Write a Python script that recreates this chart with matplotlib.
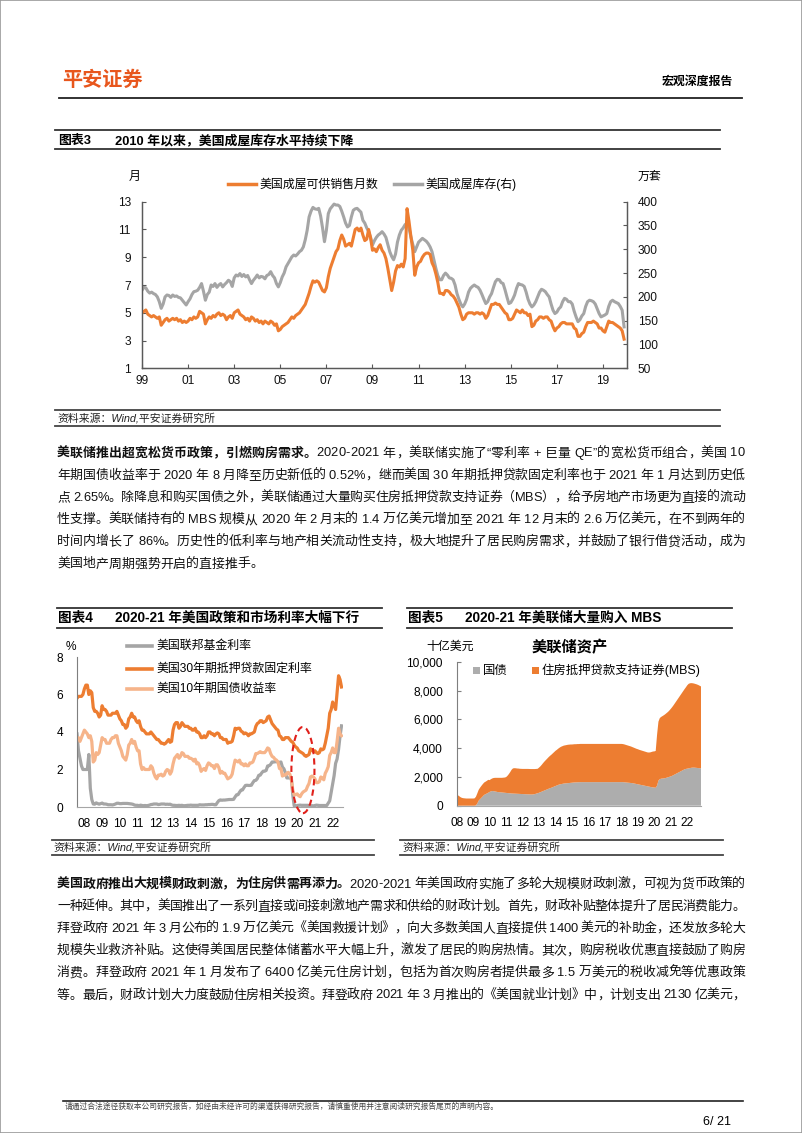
import matplotlib
matplotlib.use("Agg")
import matplotlib.pyplot as plt
import numpy as np
from matplotlib.lines import Line2D
from matplotlib.patches import Ellipse, Rectangle, Patch

plt.rcParams['font.family'] = ['Liberation Sans', 'Noto Sans CJK SC']
plt.rcParams['axes.unicode_minus'] = False

# ---------------- 数据 ----------------
# 图表3：美国成屋可供销售月数（月），1999-01 ~ 2019-12，月度
months_supply = [
    5.0, 5.1, 5.2, 4.9, 4.8, 4.7, 4.8, 4.7, 4.6, 4.7, 4.1, 4.3,   # 1999
    4.5, 4.6, 4.4, 4.5, 4.6, 4.5, 4.6, 4.4, 4.5, 4.3, 4.4, 4.3,   # 2000
    4.4, 4.6, 4.5, 4.7, 4.6, 4.7, 5.1, 5.0, 4.9, 4.2, 4.5, 4.7,   # 2001
    4.6, 4.8, 4.7, 4.9, 5.0, 4.8, 4.9, 4.8, 4.5, 4.7, 4.8, 4.6,   # 2002
    5.0, 5.1, 5.2, 4.9, 4.8, 4.7, 4.5, 4.6, 4.4, 4.7, 4.6, 4.4,   # 2003
    4.5, 4.3, 4.4, 4.2, 4.4, 4.3, 4.2, 4.4, 4.3, 4.1, 4.2, 3.7,   # 2004
    3.8, 4.0, 4.1, 4.2, 4.3, 4.5, 4.7, 4.6, 4.8, 4.9, 5.0, 5.2,   # 2005
    5.4, 5.6, 6.0, 6.4, 6.9, 7.3, 7.2, 7.3, 7.2, 6.9, 6.6, 6.5,   # 2006
    6.8, 7.6, 8.2, 8.6, 9.0, 9.4, 9.6, 10.2, 10.6, 10.3, 9.8, 9.9,  # 2007
    10.0, 9.8, 10.4, 11.0, 11.1, 10.9, 11.1, 10.6, 10.2, 10.3, 11.0, 10.4,  # 2008
    9.5, 9.6, 9.4, 9.7, 9.9, 9.5, 9.3, 8.9, 8.2, 7.4, 6.6, 7.2,   # 2009
    8.0, 8.4, 8.3, 8.5, 8.3, 8.9, 12.5, 11.6, 10.5, 9.5, 7.7, 8.3,  # 2010
    8.6, 8.7, 9.0, 9.2, 9.3, 9.3, 9.2, 8.6, 8.3, 7.8, 7.2, 6.4,   # 2011
    6.4, 6.3, 6.6, 6.6, 6.5, 6.3, 6.2, 6.0, 5.7, 5.4, 4.9, 4.5,   # 2012
    4.6, 4.9, 5.0, 5.0, 5.0, 4.9, 5.0, 5.0, 4.9, 5.0, 4.9, 4.6,   # 2013
    4.8, 5.2, 5.6, 5.6, 5.7, 5.6, 5.6, 5.4, 5.2, 5.0, 4.9, 4.5,   # 2014
    4.5, 4.6, 4.9, 5.2, 5.1, 5.0, 5.2, 5.0, 5.0, 4.8, 4.9, 4.0,   # 2015
    4.1, 4.4, 4.5, 4.7, 4.7, 4.6, 4.7, 4.7, 4.5, 4.4, 4.0, 3.7,   # 2016
    3.9, 4.0, 4.2, 4.3, 4.3, 4.2, 4.2, 4.2, 4.2, 3.9, 3.8, 3.3,   # 2017
    3.3, 3.5, 3.6, 4.0, 4.3, 4.3, 4.3, 4.4, 4.3, 4.2, 3.9, 3.9,   # 2018
    3.7, 3.6, 4.0, 4.4, 4.3, 4.3, 4.2, 4.1, 4.0, 3.9, 3.7, 3.1,   # 2019
]
# 图表3：美国成屋库存（万套，右轴）
inventory = [
    214, 220, 219, 212, 208, 210, 207, 205, 200, 190, 176, 185,
    200, 204, 203, 199, 204, 201, 202, 199, 198, 193, 188, 183,
    190, 196, 205, 211, 212, 214, 220, 228, 212, 193, 205, 210,
    225, 222, 228, 220, 225, 228, 221, 226, 230, 235, 232, 222,
    240, 246, 244, 249, 243, 247, 242, 245, 236, 228, 235, 240,
    246, 240, 243, 242, 238, 245, 247, 253, 245, 240, 228, 221,
    230, 242, 250, 263, 270, 277, 284, 288, 286, 290, 295, 298,
    305, 320, 340, 368, 380, 388, 385, 384, 386, 370, 345, 316,
    340, 375, 385, 390, 395, 393, 393, 390, 380, 368, 355, 347,
    350, 368, 382, 385, 386, 382, 378, 361, 355, 345, 337, 325,
    309, 318, 325, 330, 333, 337, 332, 325, 310, 295, 285, 278,
    290, 315, 330, 340, 345, 352, 354, 345, 326, 310, 295, 305,
    315, 319, 323, 320, 317, 312, 305, 295, 277, 260, 245, 236,
    236, 245, 250, 246, 240, 239, 236, 225, 207, 195, 185, 179,
    185, 195, 210, 218, 222, 225, 222, 220, 214, 205, 195, 186,
    190, 200, 207, 220, 232, 237, 236, 230, 228, 215, 200, 186,
    188, 195, 204, 218, 228, 226, 225, 222, 210, 195, 185, 179,
    183, 190, 200, 210, 216, 214, 211, 205, 200, 185, 172, 165,
    168, 175, 179, 190, 197, 195, 190, 190, 185, 170, 158, 148,
    152, 160, 165, 180, 190, 193, 192, 190, 185, 175, 165, 158,
    160, 162, 165, 180, 190, 193, 190, 188, 186, 180, 172, 137,
]
years3 = ['99', '01', '03', '05', '07', '09', '11', '13', '15', '17', '19']

# 图表4：2008-01 ~ 2022-12，月度（%）
fed_funds = [
    3.9, 3.0, 2.6, 2.2, 2.0, 2.0, 2.0, 2.0, 2.8, 1.0, 0.4, 0.16,
    0.15, 0.22, 0.18, 0.15, 0.18, 0.21, 0.16, 0.16, 0.15, 0.12, 0.12, 0.12,
    0.11, 0.13, 0.16, 0.20, 0.20, 0.18, 0.18, 0.19, 0.19, 0.19, 0.19, 0.18,
    0.17, 0.16, 0.14, 0.10, 0.09, 0.09, 0.07, 0.10, 0.08, 0.07, 0.08, 0.07,
    0.08, 0.10, 0.13, 0.14, 0.16, 0.16, 0.16, 0.13, 0.14, 0.16, 0.16, 0.16,
    0.14, 0.15, 0.14, 0.15, 0.11, 0.09, 0.09, 0.08, 0.08, 0.09, 0.08, 0.09,
    0.07, 0.07, 0.08, 0.09, 0.09, 0.10, 0.09, 0.09, 0.09, 0.09, 0.09, 0.12,
    0.11, 0.11, 0.11, 0.12, 0.12, 0.13, 0.13, 0.14, 0.14, 0.12, 0.12, 0.24,
    0.34, 0.38, 0.36, 0.37, 0.37, 0.38, 0.39, 0.40, 0.40, 0.40, 0.41, 0.54,
    0.65, 0.66, 0.79, 0.90, 0.91, 1.04, 1.15, 1.16, 1.15, 1.15, 1.16, 1.30,
    1.41, 1.42, 1.51, 1.69, 1.70, 1.82, 1.91, 1.91, 1.95, 2.19, 2.20, 2.27,
    2.40, 2.40, 2.41, 2.42, 2.39, 2.38, 2.40, 2.13, 2.04, 1.83, 1.55, 1.55,
    1.55, 1.58, 0.65, 0.05, 0.05, 0.08, 0.09, 0.10, 0.09, 0.09, 0.09, 0.09,
    0.09, 0.08, 0.07, 0.07, 0.06, 0.08, 0.10, 0.09, 0.08, 0.08, 0.08, 0.08,
    0.08, 0.08, 0.20, 0.33, 0.77, 1.21, 1.68, 2.33, 2.56, 3.08, 3.78, 4.33,
]
mortgage_30y = [
    5.8, 5.9, 5.9, 5.9, 6.0, 6.3, 6.5, 6.5, 6.0, 6.2, 6.1, 5.3,
    5.1, 5.1, 5.0, 4.8, 4.9, 5.4, 5.2, 5.2, 5.1, 4.9, 4.9, 4.9,
    5.0, 5.0, 5.0, 5.1, 4.9, 4.7, 4.6, 4.4, 4.4, 4.2, 4.3, 4.7,
    4.8, 5.0, 4.8, 4.8, 4.6, 4.5, 4.6, 4.3, 4.1, 4.1, 4.0, 3.9,
    3.9, 3.9, 4.0, 3.9, 3.8, 3.7, 3.6, 3.6, 3.5, 3.4, 3.4, 3.35,
    3.4, 3.5, 3.6, 3.45, 3.5, 4.1, 4.4, 4.5, 4.5, 4.2, 4.3, 4.5,
    4.4, 4.3, 4.3, 4.3, 4.2, 4.2, 4.1, 4.1, 4.2, 4.0, 4.0, 3.9,
    3.7, 3.7, 3.8, 3.7, 3.8, 4.0, 4.0, 3.9, 3.9, 3.8, 3.9, 3.95,
    3.9, 3.7, 3.7, 3.6, 3.6, 3.6, 3.4, 3.45, 3.45, 3.5, 3.8, 4.2,
    4.15, 4.2, 4.2, 4.05, 4.0, 3.9, 3.95, 3.9, 3.8, 3.9, 3.9, 3.95,
    4.0, 4.3, 4.45, 4.5, 4.6, 4.6, 4.5, 4.55, 4.6, 4.8, 4.85, 4.65,
    4.45, 4.35, 4.25, 4.15, 4.1, 3.8, 3.75, 3.6, 3.6, 3.7, 3.7, 3.7,
    3.6, 3.5, 3.45, 3.3, 3.2, 3.15, 3.0, 2.95, 2.9, 2.85, 2.75, 2.7,
    2.75, 2.8, 3.1, 3.05, 2.95, 3.0, 2.9, 2.85, 2.9, 3.1, 3.05, 3.1,
    3.4, 3.8, 4.2, 5.0, 5.2, 5.6, 5.4, 5.2, 6.1, 7.0, 6.8, 6.4,
]
treasury_10y = [
    3.7, 3.7, 3.5, 3.7, 3.9, 4.1, 4.0, 3.9, 3.7, 3.8, 3.5, 2.4,
    2.5, 2.9, 2.8, 2.9, 3.3, 3.7, 3.6, 3.6, 3.4, 3.4, 3.4, 3.6,
    3.7, 3.7, 3.8, 3.8, 3.4, 3.2, 3.0, 2.7, 2.6, 2.5, 2.8, 3.3,
    3.4, 3.6, 3.4, 3.5, 3.2, 3.0, 3.0, 2.3, 2.0, 2.1, 2.0, 2.0,
    2.0, 2.0, 2.2, 2.1, 1.8, 1.6, 1.5, 1.7, 1.7, 1.75, 1.65, 1.7,
    1.9, 2.0, 1.95, 1.75, 1.9, 2.3, 2.6, 2.7, 2.8, 2.6, 2.7, 2.9,
    2.85, 2.7, 2.7, 2.7, 2.6, 2.6, 2.55, 2.45, 2.55, 2.3, 2.35, 2.2,
    1.9, 2.0, 2.05, 1.95, 2.2, 2.35, 2.3, 2.2, 2.2, 2.05, 2.25, 2.25,
    2.1, 1.8, 1.9, 1.8, 1.8, 1.65, 1.5, 1.55, 1.6, 1.75, 2.15, 2.5,
    2.45, 2.4, 2.5, 2.3, 2.3, 2.2, 2.3, 2.2, 2.2, 2.35, 2.35, 2.4,
    2.6, 2.85, 2.85, 2.9, 2.95, 2.9, 2.9, 2.9, 3.0, 3.15, 3.1, 2.85,
    2.7, 2.65, 2.55, 2.5, 2.4, 2.05, 2.05, 1.65, 1.7, 1.7, 1.8, 1.85,
    1.75, 1.5, 0.9, 0.65, 0.65, 0.7, 0.6, 0.55, 0.7, 0.8, 0.85, 0.9,
    1.1, 1.25, 1.6, 1.65, 1.6, 1.5, 1.3, 1.3, 1.35, 1.6, 1.55, 1.45,
    1.8, 1.95, 2.15, 2.75, 2.9, 3.15, 2.9, 2.9, 3.5, 4.2, 3.9, 3.8,
]
years45 = ['08', '09', '10', '11', '12', '13', '14', '15', '16', '17', '18', '19', '20', '21', '22']

# 图表5：美联储资产（十亿美元），2008-01 ~ 2022-11，月度
fed_treasury = [
    0, 0, 0, 0, 0, 0, 0, 0, 0, 0, 0, 0,
    0, 0, 20, 150, 350, 450, 550, 650, 750, 800, 850, 900,
    960, 1000, 1020, 1010, 990, 970, 950, 940, 930, 920, 910, 900,
    890, 880, 870, 860, 850, 845, 840, 835, 830, 825, 820, 815,
    810, 805, 800, 795, 790, 785, 780, 780, 790, 810, 840, 870,
    900, 940, 980, 1020, 1060, 1100, 1140, 1180, 1220, 1250, 1290, 1330,
    1370, 1410, 1450, 1480, 1500, 1520, 1540, 1550, 1560, 1570, 1580, 1590,
    1600, 1610, 1620, 1620, 1630, 1630, 1640, 1640, 1640, 1640, 1640, 1640,
    1640, 1640, 1640, 1640, 1640, 1640, 1640, 1640, 1640, 1640, 1640, 1640,
    1640, 1640, 1640, 1640, 1640, 1640, 1640, 1640, 1640, 1640, 1640, 1640,
    1640, 1640, 1630, 1620, 1610, 1600, 1590, 1580, 1570, 1550, 1530, 1510,
    1490, 1470, 1450, 1430, 1410, 1390, 1370, 1350, 1330, 1310, 1290, 1270,
    1260, 1250, 1400, 1750, 1850, 1880, 1890, 1900, 1920, 1950, 1980, 2010,
    2040, 2080, 2130, 2180, 2230, 2280, 2330, 2380, 2430, 2480, 2530, 2560,
    2580, 2600, 2620, 2640, 2650, 2650, 2640, 2630, 2620, 2610, 2600,
]
fed_mbs = [
    780, 720, 650, 580, 540, 520, 510, 500, 500, 500, 500, 500,
    500, 510, 600, 700, 750, 800, 830, 850, 860, 870, 880, 900,
    820, 850, 880, 920, 950, 970, 990, 1000, 1010, 1020, 1040, 1060,
    1100, 1200, 1330, 1480, 1650, 1750, 1770, 1770, 1760, 1760, 1750, 1750,
    1750, 1755, 1760, 1765, 1770, 1770, 1770, 1770, 1760, 1740, 1720, 1700,
    1750, 1800, 1870, 1950, 2020, 2080, 2140, 2200, 2250, 2300, 2350, 2400,
    2450, 2480, 2520, 2560, 2600, 2620, 2640, 2650, 2660, 2670, 2670, 2670,
    2660, 2660, 2660, 2660, 2660, 2660, 2660, 2660, 2660, 2660, 2660, 2660,
    2660, 2660, 2660, 2660, 2660, 2660, 2660, 2660, 2660, 2660, 2660, 2660,
    2660, 2660, 2660, 2660, 2660, 2660, 2660, 2660, 2660, 2660, 2660, 2660,
    2660, 2650, 2640, 2620, 2600, 2580, 2560, 2540, 2510, 2490, 2470, 2450,
    2440, 2420, 2410, 2400, 2390, 2380, 2370, 2360, 2370, 2400, 2450, 2500,
    2520, 2560, 3550, 4100, 4250, 4300, 4350, 4400, 4450, 4500, 4550, 4620,
    4700, 4780, 4860, 4950, 5040, 5130, 5220, 5310, 5400, 5490, 5580, 5680,
    5800, 5880, 5900, 5890, 5870, 5850, 5830, 5810, 5780, 5740, 5700,
]

# ---------------- 页面 ----------------
W, H = 802, 1133
ORANGE = '#ED7D31'
GRAY = '#A5A5A5'
PEACH = '#F6B48A'
fig = plt.figure(figsize=(W / 100, H / 100), dpi=100)


def fx(x):
    return x / W


def fy(y):
    return 1 - y / H


def hline(x0, x1, y, lw=1.3, color='#333333'):
    fig.add_artist(Line2D([fx(x0), fx(x1)], [fy(y), fy(y)], lw=lw, color=color))


def text(x, y, s, size=9, **kw):
    kw.setdefault('va', 'center')
    return fig.text(fx(x), fy(y), s, fontsize=size, **kw)


def px_axes(left, top, right, bottom):
    return fig.add_axes([fx(left), fy(bottom), (right - left) / W, (bottom - top) / H])


def para_line(x0, x1, y, segs, size=9.3, justify=True):
    # 两端对齐：逐字放置
    r = fig.canvas.get_renderer()
    chars = [(c, w) for s, w in segs for c in s]
    widths = []
    for c, w in chars:
        if c == ' ':
            widths.append(0.28 * size * 100 / 72)
        else:
            t = fig.text(0, 0, c, fontsize=size, fontweight=w)
            widths.append(t.get_window_extent(r).width)
            t.remove()
    gap = 0
    if justify and len(chars) > 1:
        gap = (x1 - x0 - sum(widths)) / (len(chars) - 1)
    x = x0
    for (c, w), wd in zip(chars, widths):
        if c != ' ':
            fig.text(fx(x), fy(y), c, fontsize=size, fontweight=w,
                     va='baseline', ha='left', color='#111111')
        x += wd + gap


# 边框
fig.add_artist(Rectangle((0, 0), 1, 1, transform=fig.transFigure, fill=False,
                         ec='#9a9a9a', lw=1.2))

# 页眉
text(62, 80, '平安证券', size=14.5, color='#E8561C', fontweight='bold')
text(733, 82, '宏观深度报告', size=8.6, fontweight='bold', ha='right')
hline(59, 742, 98, lw=1.3, color='#222222')

# ---------------- 图表3 ----------------
hline(55, 720, 129.5)
hline(55, 720, 149)
text(58, 140.5, '图表3', size=9.3, fontweight='bold')
text(115, 140.5, '2010 年以来，美国成屋库存水平持续下降', size=9.3, fontweight='bold')

ax3 = px_axes(142, 201.7, 626.7, 368.3)
ax3b = ax3.twinx()
x3 = 1999 + np.arange(len(months_supply)) / 12
ax3b.plot(x3, inventory, color=GRAY, lw=2.2, solid_joinstyle='round')
ax3.plot(x3, months_supply, color=ORANGE, lw=2.2, solid_joinstyle='round')
ax3.set_zorder(ax3b.get_zorder() + 1)
ax3.patch.set_visible(False)
ax3.set_xlim(1999, 2020.03)
ax3.set_ylim(1, 13)
ax3b.set_ylim(50, 400)
ax3.set_yticks(range(1, 14, 2))
ax3b.set_yticks(range(50, 401, 50))
ax3.set_xticks(range(1999, 2020, 2))
ax3.set_xticklabels(years3)
for a in (ax3, ax3b):
    for sp in a.spines.values():
        sp.set_color('#595959')
        sp.set_linewidth(0.9)
    a.spines['top'].set_visible(False)
    a.tick_params(direction='in', length=3, labelsize=8.6, colors='#595959',
                  labelcolor='#111111', width=0.8)
ax3.tick_params(axis='y', pad=8)
ax3.tick_params(axis='x', pad=5)
ax3b.tick_params(axis='y', pad=8)
text(129, 177, '月', size=8.6)
text(638, 177, '万套', size=8.6)
fig.add_artist(Line2D([fx(228), fx(256)], [fy(184.3)] * 2, color=ORANGE, lw=2.5))
text(259, 184.5, '美国成屋可供销售月数', size=8.6)
fig.add_artist(Line2D([fx(394), fx(422)], [fy(184.3)] * 2, color=GRAY, lw=2.5))
text(425, 184.5, '美国成屋库存(右)', size=8.6)

hline(55, 720, 410, color='#444444')
hline(55, 720, 425.5, color='#444444')
text(57, 418, '资料来源：Wind,平安证券研究所', size=7.8, style='italic', color='#222222')

# ---------------- 正文1 ----------------
p1 = [
    [('美联储推出超宽松货币政策，引燃购房需求。', 'bold'),
     ('2020-2021 年，美联储实施了“零利率 + 巨量 QE”的宽松货币组合，美国 10', 'normal')],
    [('年期国债收益率于 2020 年 8 月降至历史新低的 0.52%，继而美国 30 年期抵押贷款固定利率也于 2021 年 1 月达到历史低', 'normal')],
    [('点 2.65%。除降息和购买国债之外，美联储通过大量购买住房抵押贷款支持证券（MBS），给予房地产市场更为直接的流动', 'normal')],
    [('性支撑。美联储持有的 MBS 规模从 2020 年 2 月末的 1.4 万亿美元增加至 2021 年 12 月末的 2.6 万亿美元，在不到两年的', 'normal')],
    [('时间内增长了 86%。历史性的低利率与地产相关流动性支持，极大地提升了居民购房需求，并鼓励了银行借贷活动，成为', 'normal')],
    [('美国地产周期强势开启的直接推手。', 'normal')],
]
for i, segs in enumerate(p1):
    para_line(57, 745, 456.5 + i * 22.2, segs, justify=(i < len(p1) - 1))

# ---------------- 图表4 ----------------
hline(57, 382, 607.5)
hline(57, 382, 627.5)
text(58, 618, '图表4', size=9.8, fontweight='bold')
text(115, 618, '2020-21 年美国政策和市场利率大幅下行', size=9.8, fontweight='bold')

ax4 = px_axes(77, 657, 343, 807)
x4 = 2008 + np.arange(len(fed_funds)) / 12
ax4.plot(x4, fed_funds, color=GRAY, lw=2.3)
ax4.plot(x4, treasury_10y, color=PEACH, lw=2.3)
ax4.plot(x4, mortgage_30y, color=ORANGE, lw=2.3)
ax4.set_xlim(2008, 2023)
ax4.set_ylim(0, 8)
ax4.set_yticks(range(0, 9, 2))
ax4.set_xticks(np.arange(2008, 2023) + 0.42)
ax4.set_xticklabels(years45)
ax4.spines['top'].set_visible(False)
ax4.spines['right'].set_visible(False)
ax4.spines['left'].set_color('#7f7f7f')
ax4.spines['bottom'].set_color('#a6a6a6')
ax4.tick_params(axis='x', length=0, labelsize=8.6, pad=8)
ax4.tick_params(axis='y', length=0, labelsize=8.6, pad=10)
ax4.add_patch(Ellipse((2020.74, 1.97), 1.3, 4.6, fill=False, ec='#E0201B',
                      ls=(0, (3, 2)), lw=1.5, zorder=5, clip_on=False))
text(71, 647, '%', size=8.6, ha='center')
for yy, c, lab in [(645.7, GRAY, '美国联邦基金利率'),
                   (669, ORANGE, '美国30年期抵押贷款固定利率'),
                   (689, PEACH, '美国10年期国债收益率')]:
    fig.add_artist(Line2D([fx(127), fx(152)], [fy(yy)] * 2, color=c, lw=2.6))
    text(156, yy, lab, size=8.6)

hline(52, 374, 839.5, color='#444444')
hline(52, 374, 854.5, color='#444444')
text(53, 847, '资料来源：Wind,平安证券研究所', size=7.8, style='italic', color='#222222')

# ---------------- 图表5 ----------------
hline(407, 732, 607.5)
hline(407, 732, 627.5)
text(408, 618, '图表5', size=9.8, fontweight='bold')
text(465, 618, '2020-21 年美联储大量购入 MBS', size=9.8, fontweight='bold')

ax5 = px_axes(456.7, 662, 701, 805.7)
x5 = 2008 + np.arange(len(fed_treasury)) / 12
ax5.stackplot(x5, fed_treasury, fed_mbs, colors=['#ADADAD', ORANGE], lw=0)
ax5.set_xlim(x5[0], x5[-1])
ax5.set_ylim(0, 10000)
ax5.set_yticks(range(0, 10001, 2000))
ax5.set_yticklabels([f'{v:,}' for v in range(0, 10001, 2000)])
ax5.set_xticks(range(2008, 2023))
ax5.set_xticklabels(years45)
ax5.spines['top'].set_visible(False)
ax5.spines['right'].set_visible(False)
ax5.spines['left'].set_color('#7f7f7f')
ax5.spines['bottom'].set_color('#a6a6a6')
ax5.tick_params(axis='x', length=0, labelsize=8.6, pad=8)
ax5.tick_params(axis='y', direction='in', length=3, color='#7f7f7f', labelsize=8.6, pad=10)
text(450, 647, '十亿美元', size=8.6, ha='center')
text(570, 648, '美联储资产', size=11, fontweight='bold', ha='center')
fig.add_artist(Rectangle((fx(473), fy(674)), 7 / W, 7 / H, transform=fig.transFigure,
                         fc='#ADADAD', ec='none'))
text(483, 670.5, '国债', size=8.9)
fig.add_artist(Rectangle((fx(531.5), fy(674)), 7 / W, 7 / H, transform=fig.transFigure,
                         fc=ORANGE, ec='none'))
text(541.5, 670.5, '住房抵押贷款支持证券(MBS)', size=8.9)

hline(400, 723, 839.5, color='#444444')
hline(400, 723, 854.5, color='#444444')
text(402, 847, '资料来源：Wind,平安证券研究所', size=7.8, style='italic', color='#222222')

# ---------------- 正文2 ----------------
p2 = [
    [('美国政府推出大规模财政刺激，为住房供需再添力。', 'bold'),
     ('2020-2021 年美国政府实施了多轮大规模财政刺激，可视为货币政策的', 'normal')],
    [('一种延伸。其中，美国推出了一系列直接或间接刺激地产需求和供给的财政计划。首先，财政补贴整体提升了居民消费能力。', 'normal')],
    [('拜登政府 2021 年 3 月公布的 1.9 万亿美元《美国救援计划》，向大多数美国人直接提供 1400 美元的补助金，还发放多轮大', 'normal')],
    [('规模失业救济补贴。这使得美国居民整体储蓄水平大幅上升，激发了居民的购房热情。其次，购房税收优惠直接鼓励了购房', 'normal')],
    [('消费。拜登政府 2021 年 1 月发布了 6400 亿美元住房计划，包括为首次购房者提供最多 1.5 万美元的税收减免等优惠政策', 'normal')],
    [('等。最后，财政计划大力度鼓励住房相关投资。拜登政府 2021 年 3 月推出的《美国就业计划》中，计划支出 2130 亿美元，', 'normal')],
]
for i, segs in enumerate(p2):
    para_line(57, 745, 887.5 + i * 22.2, segs, justify=True)

# ---------------- 页脚 ----------------
hline(63, 743, 1101, lw=1.2, color='#222222')
text(65, 1107, '请通过合法途径获取本公司研究报告，如经由未经许可的渠道获得研究报告，请慎重使用并注意阅读研究报告尾页的声明内容。',
     size=5.6, color='#444444')
text(731, 1122, '6/ 21', size=9, ha='right')

fig.savefig('out.png', dpi=100)
